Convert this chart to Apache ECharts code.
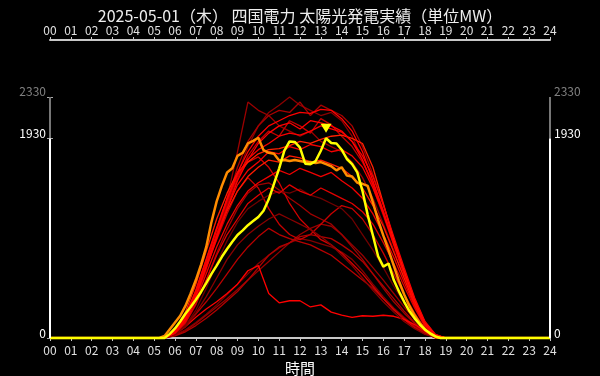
<!DOCTYPE html>
<html>
<head>
<meta charset="utf-8">
<script src="https://cdn.jsdelivr.net/npm/echarts@6/dist/echarts.min.js"></script>
<style>
  html, body { margin: 0; padding: 0; background: #000; }
  #main { width: 600px; height: 376px; }
</style>
</head>
<body>
<div id="main"></div>
<script>
const FONT = '"Noto Sans CJK JP", "Noto Sans", sans-serif'

// 時刻 (時)
const halfHours = [0, 5, 5.5, 6, 6.5, 7, 7.5, 8, 8.5, 9, 9.5, 10, 10.5, 11, 11.5, 12, 12.5, 13, 13.5, 14, 14.5, 15, 15.5, 16, 16.5, 17, 17.5, 18, 18.5, 19, 24]
const quarterHours = [0, 5.25, 5.5, 5.75, 6, 6.25, 6.5, 6.75, 7, 7.25, 7.5, 7.75, 8, 8.25, 8.5, 8.75, 9, 9.25, 9.5, 9.75,
  10, 10.25, 10.5, 10.75, 11, 11.25, 11.5, 11.75, 12, 12.25, 12.5, 12.75, 13, 13.25, 13.5, 13.75, 14, 14.25, 14.5, 14.75,
  15, 15.25, 15.5, 15.75, 16, 16.25, 16.5, 16.75, 17, 17.25, 17.5, 17.75, 18, 18.25, 18.5, 18.75, 24]

const hourLabels = ['00', '01', '02', '03', '04', '05', '06', '07', '08', '09', '10', '11', '12',
  '13', '14', '15', '16', '17', '18', '19', '20', '21', '22', '23', '24']
const yTicks = [0, 1930, 2330]

// 過去の日 (MW, halfHours)
const day01 = [0, 0, 0, 60, 200, 420, 700, 1000, 1300, 1580, 1850, 2050, 2180, 2250, 2330, 2250, 2200, 2150, 2180, 2100, 1950, 1720, 1460, 1180, 900, 610, 340, 140, 30, 0, 0]
const day02 = [0, 0, 0, 40, 160, 380, 660, 980, 1350, 1800, 2280, 2200, 2150, 2050, 2000, 1950, 2000, 1900, 1850, 1800, 1700, 1550, 1350, 1100, 850, 580, 320, 120, 20, 0, 0]
const day03 = [0, 0, 0, 45, 170, 390, 680, 1000, 1320, 1650, 1900, 2050, 2150, 2200, 2180, 2280, 2150, 2250, 2200, 2150, 2050, 1850, 1580, 1280, 960, 660, 380, 150, 30, 0, 0]
const day04 = [0, 0, 0, 30, 80, 150, 230, 320, 420, 520, 620, 720, 800, 870, 920, 960, 940, 910, 880, 830, 760, 650, 520, 400, 290, 200, 120, 50, 0, 0, 0]
const day05 = [0, 0, 0, 25, 70, 140, 220, 300, 380, 470, 560, 650, 740, 830, 920, 1000, 1060, 1100, 1080, 1000, 900, 800, 680, 560, 430, 300, 180, 80, 15, 0, 0]
const day06 = [0, 0, 0, 50, 130, 230, 350, 480, 620, 760, 880, 980, 1060, 1000, 960, 930, 900, 850, 800, 720, 640, 560, 480, 380, 280, 190, 110, 50, 0, 0, 0]
const day07 = [0, 0, 0, 40, 140, 320, 560, 820, 1050, 1250, 1400, 1480, 1500, 1430, 1350, 1280, 1200, 1150, 1100, 1000, 880, 760, 620, 480, 350, 240, 140, 60, 10, 0, 0]
const day08 = [0, 0, 0, 55, 180, 400, 680, 950, 1200, 1420, 1550, 1450, 1250, 1100, 1000, 950, 1000, 1100, 1200, 1280, 1250, 1150, 1000, 820, 620, 420, 240, 90, 15, 0, 0]
const day09 = [0, 0, 0, 60, 200, 440, 740, 1040, 1320, 1560, 1700, 1750, 1650, 1500, 1300, 1150, 1050, 950, 900, 820, 720, 620, 500, 380, 270, 180, 100, 40, 5, 0, 0]
const day10 = [0, 0, 0, 20, 60, 120, 190, 270, 360, 450, 560, 680, 800, 880, 920, 980, 1000, 980, 960, 900, 830, 740, 620, 500, 380, 260, 150, 60, 10, 0, 0]
const day11 = [0, 0, 0, 40, 110, 200, 280, 350, 430, 520, 650, 700, 430, 340, 360, 360, 300, 320, 250, 220, 200, 215, 210, 220, 210, 180, 130, 65, 0, 0, 0]
const day12 = [0, 0, 0, 45, 150, 330, 560, 800, 1000, 1150, 1300, 1380, 1450, 1400, 1480, 1420, 1380, 1450, 1400, 1350, 1300, 1220, 1100, 920, 720, 500, 290, 110, 20, 0, 0]
const day13 = [0, 0, 0, 50, 160, 360, 620, 880, 1100, 1280, 1420, 1500, 1560, 1620, 1580, 1640, 1600, 1560, 1600, 1520, 1450, 1350, 1200, 1000, 780, 540, 310, 120, 20, 0, 0]
const day14 = [0, 0, 0, 60, 190, 420, 700, 980, 1230, 1420, 1560, 1650, 1720, 1700, 1760, 1740, 1700, 1720, 1680, 1640, 1560, 1450, 1280, 1080, 830, 580, 330, 130, 25, 0, 0]
const day15 = [0, 0, 0, 55, 190, 430, 720, 1000, 1250, 1480, 1620, 1700, 1800, 1780, 1850, 1820, 1870, 1850, 1800, 1820, 1760, 1650, 1450, 1200, 900, 620, 350, 140, 25, 0, 0]
const day16 = [0, 0, 0, 50, 180, 400, 680, 960, 1250, 1520, 1720, 1880, 1980, 2050, 2080, 2020, 2100, 2080, 2050, 2000, 1900, 1720, 1480, 1200, 920, 640, 360, 150, 30, 0, 0]
const day17 = [0, 0, 0, 80, 250, 520, 840, 1150, 1400, 1600, 1700, 1780, 1820, 1830, 1860, 1900, 1880, 1920, 1950, 1960, 1930, 1880, 1650, 1300, 950, 640, 360, 140, 25, 0, 0]
const day18 = [0, 0, 0, 65, 210, 460, 760, 1060, 1340, 1580, 1730, 1820, 1880, 1950, 1980, 1960, 2000, 2050, 2020, 1990, 1900, 1760, 1560, 1290, 980, 680, 390, 160, 35, 0, 0]
const day19 = [0, 0, 0, 70, 220, 460, 760, 1060, 1350, 1600, 1800, 1950, 2050, 2100, 2150, 2180, 2170, 2210, 2200, 2120, 2000, 1800, 1520, 1220, 920, 620, 340, 130, 20, 0, 0]
const day20 = [0, 0, 0, 35, 120, 270, 480, 720, 940, 1120, 1250, 1320, 1380, 1420, 1400, 1440, 1380, 1350, 1300, 1250, 1150, 1000, 850, 680, 500, 340, 190, 80, 15, 0, 0]
const day21 = [0, 0, 0, 55, 185, 410, 700, 990, 1280, 1540, 1760, 1900, 2000, 1950, 2100, 2050, 1980, 2120, 2060, 1950, 1850, 1700, 1500, 1230, 940, 650, 370, 150, 30, 0, 0]
const day22 = [0, 0, 0, 35, 110, 240, 400, 580, 760, 900, 1000, 1080, 1150, 1200, 1150, 1100, 1050, 980, 900, 800, 700, 580, 460, 350, 250, 160, 90, 35, 5, 0, 0]

const pastDays = [day01, day02, day03, day04, day05, day06, day07, day08, day09, day10, day11,
  day20, day21, day22, day12, day13, day14, day15, day16, day17, day18, day19]
const pastColors = ['#8a0000', '#9a0000', '#a80000', '#800000', '#960000', '#b80000', '#a00000', '#c80000', '#d40000', '#b00000', '#ff0000',
  '#700000', '#c00000', '#880000', '#e00000', '#f00000', '#ff1a00', '#f40000', '#ff0000', '#ff2000', '#f80000', '#ff0000']

// 前日 (orange) と 当日 (yellow), quarterHours
const prevDay = [0, 0, 20, 85, 150, 215, 310, 430, 560, 710, 880, 1120, 1320, 1470, 1600, 1640, 1760, 1790, 1880, 1905,
  1935, 1815, 1790, 1780, 1715, 1720, 1710, 1720, 1710, 1700, 1700, 1690, 1700, 1680, 1660, 1620, 1650, 1570, 1560, 1500,
  1490, 1470, 1310, 1140, 990, 850, 700, 550, 420, 310, 220, 145, 85, 40, 12, 0, 0]
const today = [0, 0, 0, 40, 93, 160, 235, 300, 370, 445, 530, 620, 700, 785, 860, 930, 995, 1040, 1090, 1130,
  1170, 1230, 1340, 1490, 1640, 1810, 1900, 1895, 1840, 1685, 1680, 1710, 1810, 1930, 1885, 1880, 1820, 1730, 1680, 1600,
  1420, 1190, 990, 790, 690, 720, 560, 450, 350, 260, 190, 130, 80, 45, 15, 0, 0]

const pairs = (xs, ys) => xs.map((x, i) => [x, ys[i]])

const chart = echarts.init(document.getElementById('main'))

const series = []
pastDays.forEach((d, i) => {
  series.push({
    type: 'line',
    data: pairs(halfHours, d),
    showSymbol: false,
    silent: true,
    lineStyle: { color: pastColors[i], width: 1.3 },
    z: 2
  })
})
series.push({
  type: 'line',
  data: pairs(quarterHours, prevDay),
  showSymbol: false,
  silent: true,
  lineStyle: { color: '#ff8c00', width: 2.5 },
  z: 3
})
series.push({
  type: 'line',
  data: pairs(quarterHours, today),
  showSymbol: false,
  silent: true,
  clip: false,
  lineStyle: { color: '#ffff00', width: 2.5 },
  z: 4,
  markPoint: {
    silent: true,
    symbol: 'triangle',
    symbolRotate: 180,
    symbolSize: [11, 9],
    symbolOffset: [0, -10],
    itemStyle: { color: '#ffff00' },
    label: { show: false },
    data: [{ type: 'max' }]
  },
  // 縦軸の線 (0-1930 白, 1930-2330 灰)
  markLine: {
    silent: true,
    symbol: ['none', 'none'],
    label: { show: false },
    data: [
      [{ coord: [0, 0], lineStyle: { color: '#ffffff', width: 2, type: 'solid' } }, { coord: [0, 1930] }],
      [{ coord: [0, 1930], lineStyle: { color: '#777777', width: 2, type: 'solid' } }, { coord: [0, 2330] }],
      [{ coord: [24, 0], lineStyle: { color: '#ffffff', width: 2, type: 'solid' } }, { coord: [24, 1930] }],
      [{ coord: [24, 1930], lineStyle: { color: '#777777', width: 2, type: 'solid' } }, { coord: [24, 2330] }]
    ]
  }
})

const xAxisBase = {
  type: 'value',
  min: 0,
  max: 24,
  interval: 1,
  splitLine: { show: false },
  axisLine: { onZero: false, lineStyle: { color: '#c8c8c8', width: 2 } },
  axisTick: { length: 3, lineStyle: { color: '#c8c8c8' } },
  axisLabel: {
    color: '#e0e0e0',
    fontSize: 12,
    fontFamily: FONT,
    showMinLabel: true,
    showMaxLabel: true,
    formatter: v => hourLabels[v]
  }
}

const yAxisBase = {
  type: 'value',
  min: 0,
  max: 2880,
  splitLine: { show: false },
  axisLine: { show: false },
  axisTick: { show: true, length: 3, customValues: yTicks, lineStyle: { color: '#aaaaaa' } },
  axisLabel: {
    customValues: yTicks,
    fontSize: 12,
    fontFamily: FONT,
    margin: 4,
    verticalAlign: 'bottom',
    lineHeight: 10,
    formatter: v => String(v),
    color: v => (Number(v) === 2330 ? '#808080' : '#ffffff')
  }
}

chart.setOption({
  backgroundColor: '#000',
  animation: false,
  title: {
    text: '2025-05-01（木） 四国電力 太陽光発電実績（単位MW）',
    left: 'center',
    top: 3,
    textStyle: { color: '#eeeeee', fontSize: 16, fontWeight: 'normal', fontFamily: FONT }
  },
  grid: { left: 50, right: 50, top: 40, bottom: 38, outerBoundsMode: 'none', containLabel: false },
  xAxis: [
    Object.assign({}, xAxisBase, {
      position: 'bottom',
      name: '時間',
      nameLocation: 'middle',
      nameGap: 20,
      nameTextStyle: { color: '#ffffff', fontSize: 15, fontFamily: FONT },
      axisLabel: Object.assign({}, xAxisBase.axisLabel, { margin: 6 })
    }),
    Object.assign({}, xAxisBase, {
      position: 'top',
      axisLabel: Object.assign({}, xAxisBase.axisLabel, { margin: 4 })
    })
  ],
  yAxis: [
    Object.assign({}, yAxisBase, { position: 'left' }),
    Object.assign({}, yAxisBase, { position: 'right' })
  ],
  series: series
})
</script>
</body>
</html>
